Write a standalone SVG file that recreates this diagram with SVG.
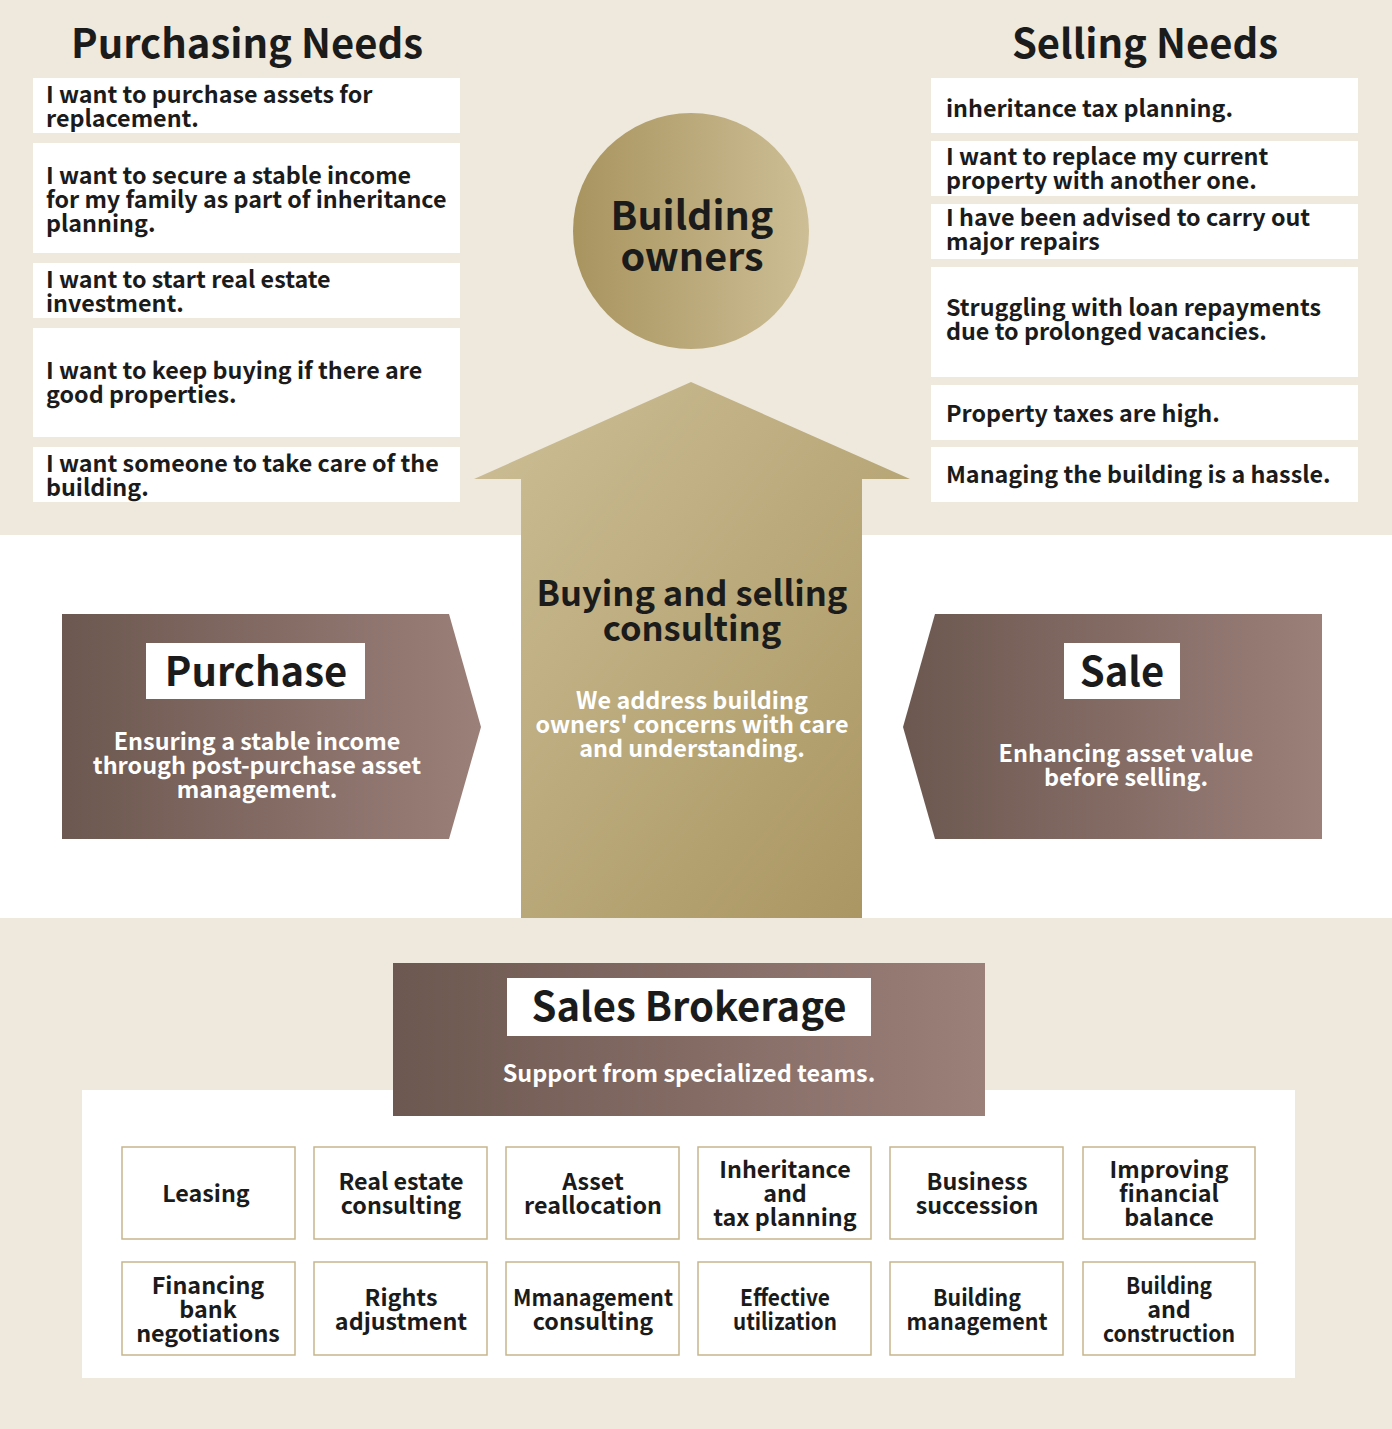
<svg xmlns="http://www.w3.org/2000/svg" width="1392" height="1429" viewBox="0 0 1392 1429">
<style>
.t{font-family:"Noto Sans CJK JP","Source Sans Pro","Noto Sans",sans-serif;font-weight:700;fill:#1b1b1b}
.need{font-size:23.3px}
.title{font-size:40px;text-anchor:middle}
.mid{text-anchor:middle}
.w{fill:#ffffff}
.nbox{fill:#ffffff}
.cell{fill:#ffffff;stroke:#c6b68c;stroke-width:1.5}
.cellt{font-size:23.3px;text-anchor:middle}
</style>
<defs>
<linearGradient id="gold" x1="0" y1="0" x2="1" y2="0">
<stop offset="0" stop-color="#a8945f"/>
<stop offset="1" stop-color="#cdbe95"/>
</linearGradient>
<linearGradient id="goldArrow" x1="0" y1="0" x2="1" y2="1">
<stop offset="0" stop-color="#cdbf97"/>
<stop offset="1" stop-color="#a8945f"/>
</linearGradient>
<linearGradient id="brown" x1="0" y1="0" x2="1" y2="0">
<stop offset="0" stop-color="#6c5850"/>
<stop offset="1" stop-color="#9b7f79"/>
</linearGradient>
</defs>

<rect x="0" y="0" width="1392" height="1429" fill="#efe9dd"/>
<rect x="0" y="535" width="1392" height="383" fill="#ffffff"/>
<rect x="82" y="1090" width="1213" height="288" fill="#ffffff"/>

<g id="purchasing-needs">
<text class="t title" x="247" y="58">Purchasing Needs</text>
<rect class="nbox" x="33" y="78" width="427" height="55"/>
<text class="t need" x="46" y="103">I want to purchase assets for</text>
<text class="t need" x="46" y="127">replacement.</text>
<rect class="nbox" x="33" y="143" width="427" height="110"/>
<text class="t need" x="46" y="184">I want to secure a stable income</text>
<text class="t need" x="46" y="208">for my family as part of inheritance</text>
<text class="t need" x="46" y="232">planning.</text>
<rect class="nbox" x="33" y="263" width="427" height="55"/>
<text class="t need" x="46" y="288">I want to start real estate</text>
<text class="t need" x="46" y="312">investment.</text>
<rect class="nbox" x="33" y="328" width="427" height="109"/>
<text class="t need" x="46" y="379">I want to keep buying if there are</text>
<text class="t need" x="46" y="403">good properties.</text>
<rect class="nbox" x="33" y="447" width="427" height="55"/>
<text class="t need" x="46" y="472">I want someone to take care of the</text>
<text class="t need" x="46" y="496">building.</text>
</g>

<g id="selling-needs">
<text class="t title" x="1145" y="58">Selling Needs</text>
<rect class="nbox" x="931" y="78" width="427" height="55"/>
<text class="t need" x="946" y="117">inheritance tax planning.</text>
<rect class="nbox" x="931" y="141" width="427" height="55"/>
<text class="t need" x="946" y="165">I want to replace my current</text>
<text class="t need" x="946" y="189">property with another one.</text>
<rect class="nbox" x="931" y="204" width="427" height="55"/>
<text class="t need" x="946" y="226">I have been advised to carry out</text>
<text class="t need" x="946" y="250">major repairs</text>
<rect class="nbox" x="931" y="267" width="427" height="110"/>
<text class="t need" x="946" y="316">Struggling with loan repayments</text>
<text class="t need" x="946" y="340">due to prolonged vacancies.</text>
<rect class="nbox" x="931" y="385" width="427" height="55"/>
<text class="t need" x="946" y="422">Property taxes are high.</text>
<rect class="nbox" x="931" y="447" width="427" height="55"/>
<text class="t need" x="946" y="483">Managing the building is a hassle.</text>
</g>

<g id="building-owners">
<circle cx="691" cy="231" r="118" fill="url(#gold)"/>
<text class="t mid" x="692" y="230" font-size="39.5">Building</text>
<text class="t mid" x="692" y="271" font-size="39.5">owners</text>
</g>

<g id="consulting">
<polygon points="691,382 910,479 862,479 862,918 521,918 521,479 474,479" fill="url(#goldArrow)"/>
<text class="t mid" x="692" y="606" font-size="34.5">Buying and selling</text>
<text class="t mid" x="692" y="641" font-size="34.5">consulting</text>
<text class="t mid w" x="692" y="709" font-size="23.4">We address building</text>
<text class="t mid w" x="692" y="733" font-size="23.4">owners' concerns with care</text>
<text class="t mid w" x="692" y="757" font-size="23.4">and understanding.</text>
</g>

<g id="purchase">
<polygon points="62,614 449,614 481,727 449,839 62,839" fill="url(#brown)"/>
<rect x="146" y="643" width="219" height="56" fill="#ffffff"/>
<text class="t mid" x="256" y="686" font-size="40">Purchase</text>
<text class="t mid w" x="257" y="750" font-size="23.4">Ensuring a stable income</text>
<text class="t mid w" x="257" y="774" font-size="23.4">through post-purchase asset</text>
<text class="t mid w" x="257" y="798" font-size="23.4">management.</text>
</g>

<g id="sale">
<polygon points="935,614 1322,614 1322,839 935,839 903,727" fill="url(#brown)"/>
<rect x="1064" y="643" width="116" height="56" fill="#ffffff"/>
<text class="t mid" x="1122" y="686" font-size="40">Sale</text>
<text class="t mid w" x="1126" y="762" font-size="23.4">Enhancing asset value</text>
<text class="t mid w" x="1126" y="786" font-size="23.4">before selling.</text>
</g>

<g id="sales-brokerage">
<rect x="393" y="963" width="592" height="153" fill="url(#brown)"/>
<rect x="507" y="978" width="364" height="58" fill="#ffffff"/>
<text class="t mid" x="689" y="1021" font-size="40">Sales Brokerage</text>
<text class="t mid w" x="689" y="1082" font-size="23.4">Support from specialized teams.</text>
</g>

<g id="services">
<g id="leasing"><rect class="cell" x="122" y="1147" width="173" height="92"/><text class="t cellt" x="206" y="1202">Leasing</text></g>
<g id="real-estate-consulting"><rect class="cell" x="314" y="1147" width="173" height="92"/><text class="t cellt" x="401" y="1190">Real estate</text><text class="t cellt" x="401" y="1214">consulting</text></g>
<g id="asset-reallocation"><rect class="cell" x="506" y="1147" width="173" height="92"/><text class="t cellt" x="593" y="1190">Asset</text><text class="t cellt" x="593" y="1214">reallocation</text></g>
<g id="inheritance"><rect class="cell" x="698" y="1147" width="173" height="92"/><text class="t cellt" x="785" y="1178">Inheritance</text><text class="t cellt" x="785" y="1202">and</text><text class="t cellt" x="785" y="1226">tax planning</text></g>
<g id="business-succession"><rect class="cell" x="890" y="1147" width="173" height="92"/><text class="t cellt" x="977" y="1190">Business</text><text class="t cellt" x="977" y="1214">succession</text></g>
<g id="financial-balance"><rect class="cell" x="1083" y="1147" width="172" height="92"/><text class="t cellt" x="1169" y="1178">Improving</text><text class="t cellt" x="1169" y="1202">financial</text><text class="t cellt" x="1169" y="1226">balance</text></g>
<g id="financing"><rect class="cell" x="122" y="1262" width="173" height="93"/><text class="t cellt" x="208" y="1294">Financing</text><text class="t cellt" x="208" y="1318">bank</text><text class="t cellt" x="208" y="1342">negotiations</text></g>
<g id="rights"><rect class="cell" x="314" y="1262" width="173" height="93"/><text class="t cellt" x="401" y="1306">Rights</text><text class="t cellt" x="401" y="1330">adjustment</text></g>
<g id="management-consulting"><rect class="cell" x="506" y="1262" width="173" height="93"/><text class="t cellt" x="593" y="1306" textLength="160" lengthAdjust="spacingAndGlyphs">Mmanagement</text><text class="t cellt" x="593" y="1330">consulting</text></g>
<g id="effective-utilization"><rect class="cell" x="698" y="1262" width="173" height="93"/><text class="t cellt" x="785" y="1306" textLength="90" lengthAdjust="spacingAndGlyphs">Effective</text><text class="t cellt" x="785" y="1330" textLength="104" lengthAdjust="spacingAndGlyphs">utilization</text></g>
<g id="building-management"><rect class="cell" x="890" y="1262" width="173" height="93"/><text class="t cellt" x="977" y="1306" textLength="88" lengthAdjust="spacingAndGlyphs">Building</text><text class="t cellt" x="977" y="1330" textLength="141" lengthAdjust="spacingAndGlyphs">management</text></g>
<g id="building-construction"><rect class="cell" x="1083" y="1262" width="172" height="93"/><text class="t cellt" x="1169" y="1294" textLength="86" lengthAdjust="spacingAndGlyphs">Building</text><text class="t cellt" x="1169" y="1318">and</text><text class="t cellt" x="1169" y="1342" textLength="132" lengthAdjust="spacingAndGlyphs">construction</text></g>
</g>

<g id="connectors"></g>
</svg>
